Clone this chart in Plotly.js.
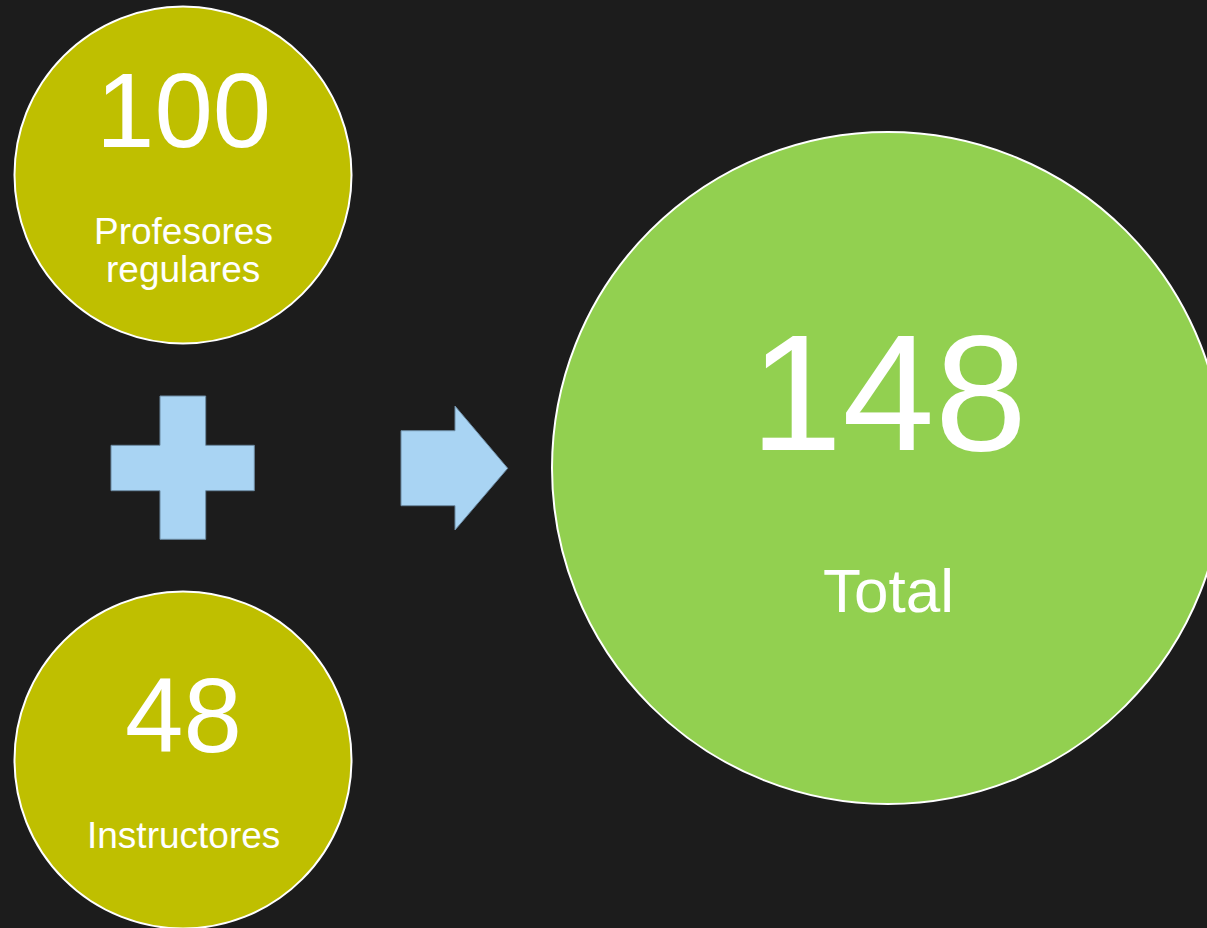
<!DOCTYPE html>
<html>
<head>
<meta charset="utf-8">
<script src="https://cdn.plot.ly/plotly-3.0.1.min.js"></script>
<style>
  html, body { margin: 0; padding: 0; background: #1c1c1c; }
  #chart { width: 1207px; height: 928px; }
</style>
</head>
<body>
<div id="chart"></div>
<script>
// ---- data ----
const values = [100, 48, 148];
const labels = ['Profesores\nregulares', 'Instructores', 'Total'];
const fillColors = ['#bfbf00', '#bfbf00', '#92d050'];

// ---- layout geometry (pixel-space axes) ----
const circles = [
  {cx: 183, cy: 175, r: 168.5, numY: 110.5, numSize: 105, labY: 231.4, labSize: 37},
  {cx: 183, cy: 760, r: 168.5, numY: 715.5, numSize: 105, labY: 835.4, labSize: 37},
  {cx: 888, cy: 468, r: 336,   numY: 392.5, numSize: 166, labY: 590,   labSize: 62}
];
const FONT = 'Liberation Sans, Arial, sans-serif';
const symColor = '#a9d4f3';
const symLine = '#6c8aa2';

const shapes = [];
const annotations = [];

circles.forEach((c, i) => {
  shapes.push({
    type: 'circle', xref: 'x', yref: 'y',
    x0: c.cx - c.r, x1: c.cx + c.r, y0: c.cy - c.r, y1: c.cy + c.r,
    fillcolor: fillColors[i], line: {color: '#ffffff', width: 2}, layer: 'below'
  });
  annotations.push({
    x: c.cx, y: c.numY, xref: 'x', yref: 'y', showarrow: false,
    text: String(values[i]), xanchor: 'center', yanchor: 'middle',
    font: {family: FONT, size: c.numSize, color: '#ffffff'}
  });
  const lines = labels[i].split('\n');
  lines.forEach((ln, k) => {
    annotations.push({
      x: c.cx, y: c.labY + k * 38, xref: 'x', yref: 'y', showarrow: false,
      text: ln, xanchor: 'center', yanchor: 'middle',
      font: {family: FONT, size: c.labSize, color: '#ffffff'}
    });
  });
});

// plus sign
shapes.push({
  type: 'path', xref: 'x', yref: 'y',
  path: 'M160,396 L205.7,396 L205.7,445.3 L254.3,445.3 L254.3,490.7 L205.7,490.7 L205.7,539.3 L160,539.3 L160,490.7 L111,490.7 L111,445.3 L160,445.3 Z',
  fillcolor: symColor, line: {color: symLine, width: 1}
});
// arrow
shapes.push({
  type: 'path', xref: 'x', yref: 'y',
  path: 'M401,430.7 L455,430.7 L455,406 L507.7,468.3 L455,530 L455,505.7 L401,505.7 Z',
  fillcolor: symColor, line: {color: symLine, width: 1}
});

const layout = {
  width: 1207, height: 928, autosize: false,
  margin: {l: 0, r: 0, t: 0, b: 0, pad: 0},
  paper_bgcolor: '#1c1c1c', plot_bgcolor: '#1c1c1c',
  showlegend: false,
  xaxis: {range: [0, 1207], visible: false, fixedrange: true},
  yaxis: {range: [928, 0], visible: false, fixedrange: true},
  shapes: shapes,
  annotations: annotations
};

Plotly.newPlot('chart', [{x: [], y: [], type: 'scatter', hoverinfo: 'skip'}], layout,
  {staticPlot: true, displayModeBar: false});
</script>
</body>
</html>
